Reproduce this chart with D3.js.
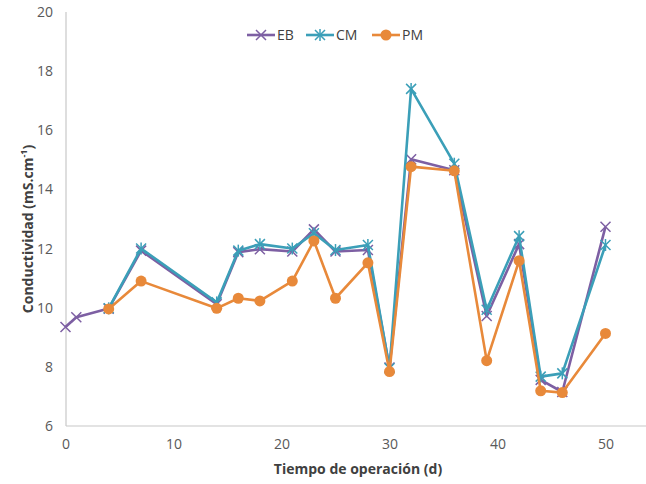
<!DOCTYPE html>
<html>
<head>
<meta charset="utf-8">
<script src="https://cdn.jsdelivr.net/npm/d3@7"></script>
<style>
  html, body { margin: 0; padding: 0; background: #fff; }
  svg { display: block; font-family: "Open Sans", Lato, sans-serif; }
</style>
</head>
<body>
<svg id="chart" width="646" height="484"></svg>
<script>
// ---- data ----
const daysEB = [0, 1, 4, 7, 14, 16, 18, 21, 23, 25, 28, 30, 32, 36, 39, 42, 44, 46, 50];
const valuesEB = [9.35, 9.68, 9.97, 11.93, 10.12, 11.88, 11.98, 11.9, 12.65, 11.9, 11.95, 7.98, 15.02, 14.65, 9.72, 12.15, 7.56, 7.15, 12.74];

const daysCM = [4, 7, 14, 16, 18, 21, 23, 25, 28, 30, 32, 36, 39, 42, 44, 46, 50];
const valuesCM = [9.98, 12.0, 10.18, 11.93, 12.15, 12.0, 12.52, 11.95, 12.12, 7.95, 17.4, 14.87, 9.93, 12.42, 7.67, 7.78, 12.12];

const daysPM = [4, 7, 14, 16, 18, 21, 23, 25, 28, 30, 32, 36, 39, 42, 44, 46, 50];
const valuesPM = [9.96, 10.9, 9.98, 10.32, 10.23, 10.9, 12.26, 10.32, 11.52, 7.84, 14.77, 14.63, 8.21, 11.59, 7.19, 7.13, 9.13];

const seriesNames = ["EB", "CM", "PM"];
const xTicks = [0, 10, 20, 30, 40, 50];
const yTicks = [6, 8, 10, 12, 14, 16, 18, 20];
const xTitle = "Tiempo de operación (d)";
const yTitle = "Conductividad (mS.cm";

// ---- styles ----
const colors = { EB: "#7d5fa3", CM: "#3b9fb8", PM: "#e8893a" };
const series = [
  { name: "EB", xs: daysEB, ys: valuesEB, marker: "x" },
  { name: "CM", xs: daysCM, ys: valuesCM, marker: "star" },
  { name: "PM", xs: daysPM, ys: valuesPM, marker: "circle" }
];

const svg = d3.select("#chart");
const x = d3.scaleLinear().domain([0, 50]).range([65.5, 605.5]);
const y = d3.scaleLinear().domain([6, 20]).range([426, 12]);

// axes lines
svg.append("line").attr("x1", 66).attr("x2", 646).attr("y1", 426).attr("y2", 426)
  .attr("stroke", "#c8c8c8").attr("stroke-width", 1.2);
svg.append("line").attr("x1", 66).attr("x2", 66).attr("y1", 12).attr("y2", 426)
  .attr("stroke", "#c8c8c8").attr("stroke-width", 1.2);

// axis tick labels via d3 axes (no domain, no tick lines)
const xAxis = svg.append("g").attr("transform", "translate(0,426)")
  .call(d3.axisBottom(x).tickValues(xTicks).tickSize(0).tickPadding(13).tickFormat(d3.format("d")));
xAxis.select(".domain").remove();
xAxis.selectAll("text").attr("font-size", 14).attr("fill", "#595959")
  .attr("font-family", "'Open Sans', Lato, sans-serif");

const yAxis = svg.append("g").attr("transform", "translate(66,0)")
  .call(d3.axisLeft(y).tickValues(yTicks).tickSize(0).tickPadding(13).tickFormat(d3.format("d")));
yAxis.select(".domain").remove();
yAxis.selectAll("text").attr("font-size", 14).attr("fill", "#595959")
  .attr("font-family", "'Open Sans', Lato, sans-serif");

// axis titles
svg.append("text").attr("x", 358).attr("y", 474).attr("text-anchor", "middle")
  .attr("font-size", 14).attr("font-weight", "bold").attr("fill", "#404040")
  .text(xTitle);

const yt = svg.append("text").attr("transform", "translate(33,229) rotate(-90)")
  .attr("text-anchor", "middle").attr("font-size", 14).attr("font-weight", "bold").attr("fill", "#404040");
yt.append("tspan").text(yTitle);
yt.append("tspan").attr("font-size", 9).attr("dy", -6).text("-1");
yt.append("tspan").attr("dy", 6).text(")");

// marker drawing
function drawMarker(g, type, cx, cy, color) {
  if (type === "circle") {
    g.append("circle").attr("cx", cx).attr("cy", cy).attr("r", 5.5).attr("fill", color);
  } else {
    const s = 5;
    g.append("path").attr("d", `M${cx - s},${cy - s}L${cx + s},${cy + s}M${cx - s},${cy + s}L${cx + s},${cy - s}`)
      .attr("stroke", color).attr("stroke-width", 1.5).attr("fill", "none");
    if (type === "star") {
      g.append("path").attr("d", `M${cx},${cy - s - 1}L${cx},${cy + s + 1}`)
        .attr("stroke", color).attr("stroke-width", 1.5);
    }
  }
}

const line = d3.line().x(d => x(d[0])).y(d => y(d[1]));
series.forEach(s => {
  const pts = s.xs.map((d, i) => [d, s.ys[i]]);
  const g = svg.append("g");
  g.append("path").attr("d", line(pts)).attr("fill", "none")
    .attr("stroke", colors[s.name]).attr("stroke-width", 2.6).attr("stroke-linejoin", "round");
  pts.forEach(p => drawMarker(g, s.marker, x(p[0]), y(p[1]), colors[s.name]));
});

// legend
const legendItems = [
  { name: "EB", x0: 247, marker: "x" },
  { name: "CM", x0: 306, marker: "star" },
  { name: "PM", x0: 372, marker: "circle" }
];
legendItems.forEach(it => {
  const g = svg.append("g");
  g.append("line").attr("x1", it.x0).attr("x2", it.x0 + 28).attr("y1", 35).attr("y2", 35)
    .attr("stroke", colors[it.name]).attr("stroke-width", 2.6);
  drawMarker(g, it.marker, it.x0 + 14, 35, colors[it.name]);
  g.append("text").attr("x", it.x0 + 30).attr("y", 35).attr("dy", "0.35em")
    .attr("font-size", 14).attr("fill", "#404040").text(it.name);
});
</script>
</body>
</html>
